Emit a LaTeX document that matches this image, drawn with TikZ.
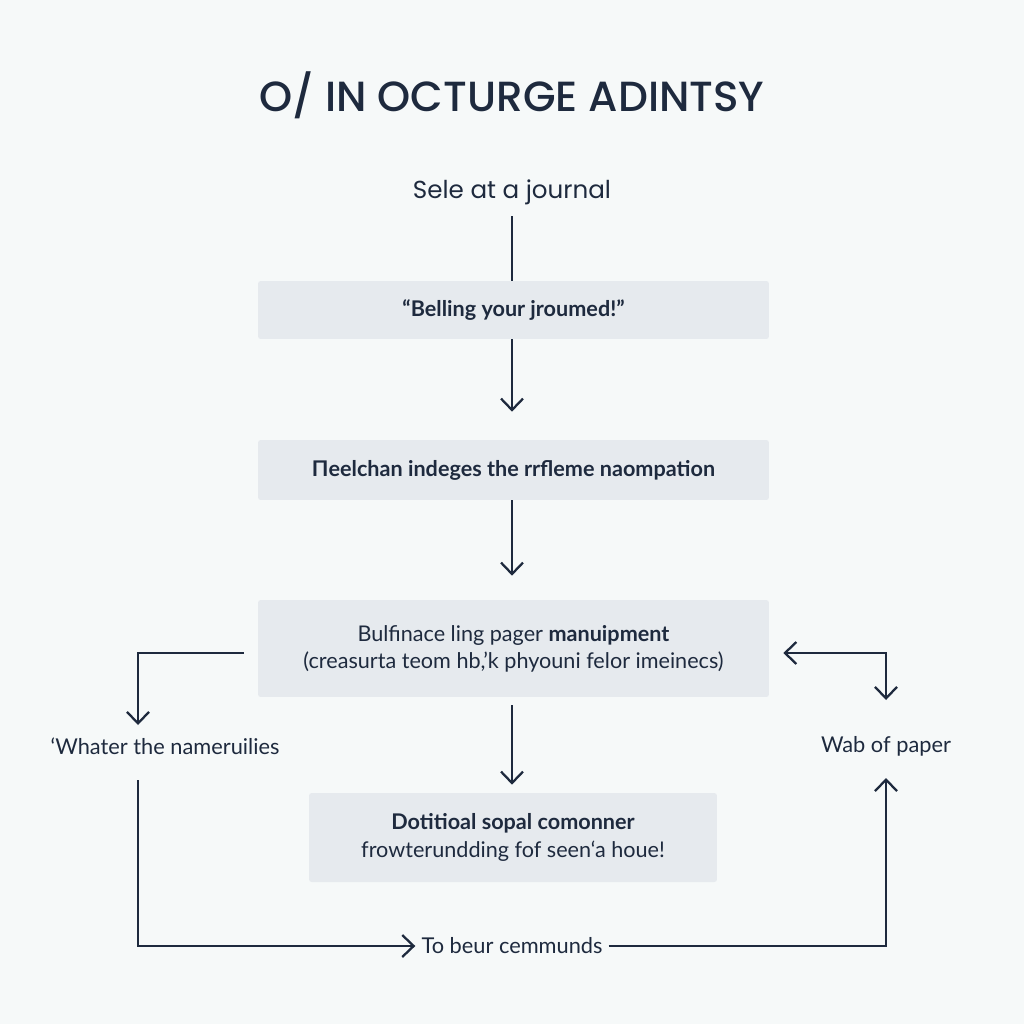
\documentclass[tikz,border=0pt]{standalone}
\usepackage{fontspec}
\setmainfont{Lato}
\newfontfamily\poppins{Poppins}
\newfontfamily\poppinsmed{Poppins Medium}
\usepackage{tikz}
\usetikzlibrary{arrows.meta,positioning,calc}
\definecolor{fdfond}{RGB}{246,249,249}
\definecolor{fdboite}{RGB}{230,234,238}
\definecolor{fdencre}{RGB}{30,42,62}

\begin{document}
\begin{tikzpicture}[x=0.02cm,y=-0.02cm,
  etape/.style={rectangle, rounded corners=1.5pt, fill=fdboite, inner sep=0pt,
    minimum width=10.22cm, text=fdencre, align=center,
    font=\fontsize{12.3}{15.5}\selectfont},
  lbl/.style={text=fdencre, font=\fontsize{12.4}{14}\selectfont},
  lien/.style={draw=fdencre, line width=1.3pt},
  fleche/.style={lien, -{Straight Barb[length=6.5pt,width=12.5pt]}},
  double/.style={lien, {Straight Barb[length=6.5pt,width=12.5pt]}-{Straight Barb[length=6.5pt,width=12.5pt]}}
]
  % fond
  \fill[fdfond] (0,0) rectangle (1024,1024);

  % titre et depart
  \node[text=fdencre, font=\poppinsmed\fontsize{24}{26}\selectfont] (titre) at (512,95) {O/ IN OCTURGE ADINTSY};
  \node[text=fdencre, font=\poppins\fontsize{14}{16}\selectfont, inner sep=2pt] (depart) at (512,192) {Sele at a journal};

  % etapes
  \node[etape, minimum height=1.16cm, font=\bfseries\fontsize{12.3}{14}\selectfont] (b1) at (513.5,310) {“Belling your jroumed!”};
  \node[etape, minimum height=1.2cm, font=\bfseries\fontsize{12.3}{14}\selectfont] (b2) at (513.5,470) {Πeelchan indeges the rrfleme naompation};
  \node[etape, minimum height=1.94cm] (b3) at (513.5,648.5) {Bulfinace ling pager \textbf{manuipment}\\(creasurta teom hb,'k phyouni felor imeinecs)};
  \node[etape, minimum width=8.16cm, minimum height=1.78cm] (b4) at (513,837.5) {\textbf{Dotitioal sopal comonner}\\frowterundding fof seen‘a houe!};

  % boucle
  \node[lbl] (whater) at (165,746) {‘Whater the nameruilies};
  \node[lbl] (wab) at (886,746) {Wab of paper};
  \node[lbl] (cmds) at (512,946) {To beur cemmunds};
  \coordinate (lt) at (138,725);
  \coordinate (lb) at (138,780);
  \coordinate (rt) at (886,778);
  \coordinate (rb) at (886,700);

  % liens
  \draw[lien, shorten <=0.16cm] (depart.south) -- (depart.south |- b1.north);
  \draw[fleche, shorten >=0.56cm] (b1.south -| depart) -- (b2.north -| depart);
  \draw[fleche, shorten >=0.48cm] (b2.south -| depart) -- (b3.north -| depart);
  \draw[fleche, shorten <=0.16cm, shorten >=0.16cm] (b3.south -| depart) -- (b4.north -| depart);
  \draw[fleche] ($(b3.west)+(-14,4.5)$) -| (lt);
  \draw[fleche] (lb) |- (cmds.west);
  \draw[fleche] (cmds.east) -| (rt);
  \draw[double] ($(b3.east)+(14,4.5)$) -| (rb);
\end{tikzpicture}
\end{document}
